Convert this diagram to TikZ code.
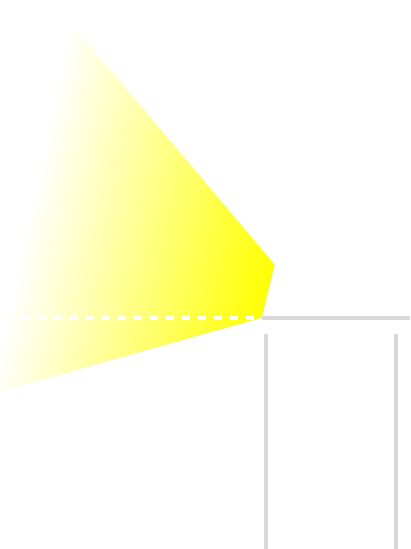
\documentclass[tikz,border=0pt]{standalone}
\usepackage{tikz}
\usetikzlibrary{calc}
\definecolor{railgray}{HTML}{D9D9D9}
\definecolor{beamyellow}{HTML}{FFFF00}

\begin{document}
\begin{tikzpicture}[x=1pt, y=-1pt,
    rail/.style={railgray, line width=4pt},
    beamedge/.style={white, line width=3.3pt, dash pattern=on 8pt off 8pt}
  ]
    \useasboundingbox (0, 0) rectangle (410, 549);
    \clip (0, 0) rectangle (410, 549);

    % Light beam
    \coordinate (apex) at (70, 22);
    \coordinate (tip) at (275, 265);
    \coordinate (corner) at (262, 318);
    \coordinate (foot) at (-9.3, 394.6);
    \begin{scope}
      \clip (apex) -- (tip) -- (corner) -- (foot) -- cycle;
      \begin{scope}[transform canvas={shift={(apex)}, rotate=-12}]
        \shade[left color=white, right color=beamyellow]
          (0, -20) rectangle (251, 400);
      \end{scope}
    \end{scope}

    % Dashed edge and table top
    \coordinate (dashstart) at (6, 318);
    \coordinate (railend) at (410, 318);
    \draw[beamedge] (dashstart) -- (corner);
    \draw[rail] (corner) -- (railend);

    % Legs
    \coordinate (legatop) at (266, 334);
    \coordinate (legabot) at (266, 549);
    \coordinate (legbtop) at (396, 334);
    \coordinate (legbbot) at (396, 549);
    \draw[rail] (legatop) -- (legabot);
    \draw[rail] (legbtop) -- (legbbot);
  \end{tikzpicture}
\end{document}
